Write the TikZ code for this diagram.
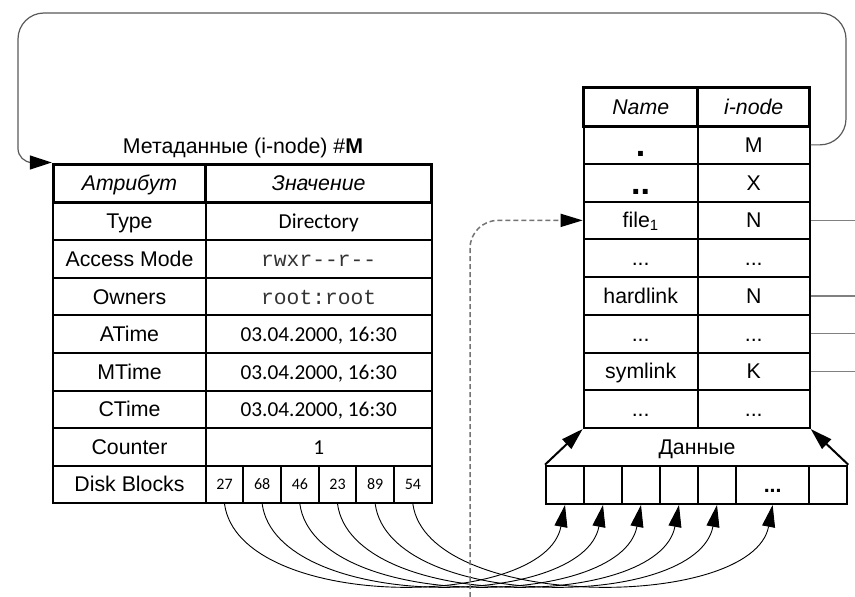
\documentclass[tikz,border=0pt]{standalone}
\usepackage{fontspec}
\usepackage{graphicx}
\setmainfont{Liberation Sans}
\setmonofont{Liberation Mono}
\newfontfamily\calib{Carlito}
\usetikzlibrary{arrows.meta}
\newcommand\mydots{...}
\newcommand\bigdot[1]{\raisebox{-4pt}{\scalebox{1.6}{\textbf{#1}}}}
\begin{document}
\begin{tikzpicture}[x=1pt,y=-1pt,
  tcell/.style={draw, line width=2pt, inner sep=0pt, text height=15pt, text depth=0pt,
                font=\fontsize{21.3pt}{25pt}\selectfont},
  hcell/.style={tcell, line width=3pt, font=\fontsize{21.3pt}{25pt}\selectfont\itshape},
  acell/.style={tcell, minimum width=152.4pt, minimum height=37.6pt},
  vcell/.style={tcell, minimum width=226pt, minimum height=37.6pt},
  bcell/.style={tcell, minimum width=37.67pt, minimum height=37.6pt, text height=10.5pt,
                font=\fontsize{16pt}{19pt}\selectfont\calib},
  ncell/.style={tcell, minimum width=114pt, minimum height=37.75pt},
  kcell/.style={tcell, minimum width=112pt, minimum height=37.75pt},
  dcell/.style={tcell, minimum height=38.3pt},
  bigtip/.style={-{Triangle[length=22pt,width=13pt,black]}},
  curve/.style={line width=0.9pt, bigtip},
  tline/.style={line width=2pt, bigtip},
  loopln/.style={draw=black!65, line width=1.2pt},
  stub/.style={draw=black!50, line width=1.5pt},
  dashln/.style={draw=black!55, line width=1.5pt, dash pattern=on 5pt off 3pt}
]
\useasboundingbox (0,0) rectangle (855,597);

% ---------- left table ----------
\node[font=\fontsize{21.3pt}{25pt}\selectfont, text height=15pt, text depth=0pt, inner sep=0pt]
  (title) at (243,146) {Метаданные (i-node) \#\textbf{M}};

\foreach \i/\a/\v in {1/Type/{\calib Directory},
                      2/Access Mode/{\ttfamily\color{black!80}rwxr--r--},
                      3/Owners/{\ttfamily\color{black!80}root:root},
                      4/ATime/{\calib 03.04.2000, 16:30},
                      5/MTime/{\calib 03.04.2000, 16:30},
                      6/CTime/{\calib 03.04.2000, 16:30},
                      7/Counter/{\calib 1}}{
  \node[acell] (a\i) at (129.5, {202.5+37.6*(\i-0.5)}) {\a};
  \node[vcell] (v\i) at (318.7, {202.5+37.6*(\i-0.5)}) {\v};
}
\node[acell] (a8) at (129.5, 484.3) {Disk Blocks};
\foreach \j/\n in {1/27,2/68,3/46,4/23,5/89,6/54}
  \node[bcell] (b\j) at ({205.7+37.67*(\j-0.5)}, 484.3) {\n};

\node[hcell, minimum width=152.4pt, minimum height=38.5pt] (ha) at (129.5,183.25) {Атрибут};
\node[hcell, minimum width=226pt, minimum height=38.5pt] (hv) at (318.7,183.25) {Значение};

% ---------- right table ----------
\foreach \i/\n/\k in {1/\bigdot{.}/M, 2/\bigdot{..}/X, 3/file\textsubscript{1}/N,
                      4/\mydots/\mydots, 5/hardlink/N, 6/\mydots/\mydots,
                      7/symlink/K, 8/\mydots/\mydots}{
  \node[ncell] (rn\i) at (640.7, {126+37.75*(\i-0.5)}) {\n};
  \node[kcell] (rk\i) at (753.7, {126+37.75*(\i-0.5)}) {\k};
}
\node[hcell, minimum width=114pt, minimum height=38.7pt] (hn) at (640.7,106.65) {Name};
\node[hcell, minimum width=112pt, minimum height=38.7pt] (hi) at (753.7,106.65) {i-node};

% ---------- data blocks ----------
\foreach \j/\c/\w in {1/565/38, 2/603/38, 3/641/38, 4/679/38, 5/717/38, 7/828.15/38.3}
  \node[dcell, minimum width=\w pt] (d\j) at (\c,484.85) {};
\node[dcell, minimum width=73.3pt] (d6) at (772.65,484.85) {\textbf{\mydots}};
\node[font=\fontsize{21.3pt}{25pt}\selectfont, text height=15pt, text depth=0pt, inner sep=0pt]
  (data) at (697,447) {Данные};

\draw[tline] (d1.north west) -- (rn8.south west);
\draw[tline] (d7.north east) -- (rk8.south east);

% ---------- block curves ----------
\foreach \j in {1,...,6}
  \draw[curve] (b\j.south) .. controls +(15,107) and +(-20,106) .. (d\j.south);

% ---------- loop back to i-node M ----------
\coordinate (lpTR) at (846,13);
\coordinate (lpL) at (18,100);
\draw[loopln, rounded corners=26pt, -{Triangle[length=22pt,width=14pt,black]}]
  (rk1.east) -| (lpTR) -| (lpL) [rounded corners=14pt] |- (ha.north west);

% ---------- stubs ----------
\coordinate (E) at (855,0);
\foreach \r in {3,5,6,7}
  \draw[stub] (rk\r.east) -- (rk\r.east -| E);

% ---------- dashed ----------
\coordinate (dsh) at (470,597);
\draw[dashln, rounded corners=28pt, -{Triangle[length=22pt,width=13pt,black]}]
  (dsh) |- (rn3.west);
\end{tikzpicture}
\end{document}
